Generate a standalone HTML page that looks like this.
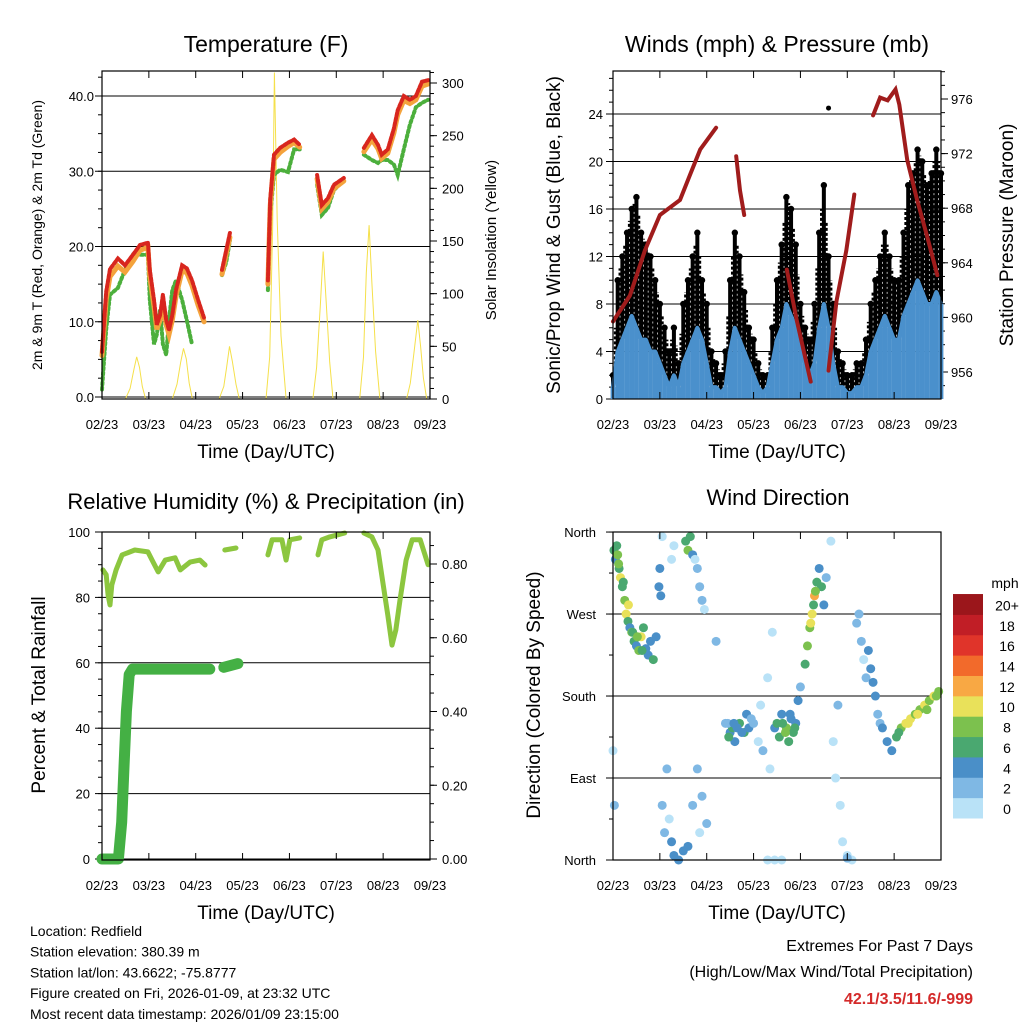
<!DOCTYPE html>
<html><head><meta charset="utf-8">
<style>
html,body{margin:0;padding:0;background:#fff;}
svg{display:block;font-family:"Liberation Sans",Arial,sans-serif;}
</style></head>
<body>
<svg id="chart" width="1024" height="1024" viewBox="0 0 1024 1024" xmlns="http://www.w3.org/2000/svg"></svg>
<script>
// ---------- shared time axis ----------
const xTickLabels = ["02/23","03/23","04/23","05/23","06/23","07/23","08/23","09/23"];

// ---------- Temperature panel data (t in days, value in F; null = gap) ----------
const tempTimes = [0,0.09,0.17,0.34,0.49,0.66,0.81,0.98,1.02,1.11,1.17,1.24,1.3,1.37,1.43,1.5,1.58,1.71,1.81,1.92,2.05,2.18,null,2.56,2.65,2.73,null,3.54,3.59,3.67,3.8,3.97,4.1,4.22,null,4.59,4.69,4.82,4.95,5.16,null,5.59,5.76,5.89,5.97,6.1,6.23,6.31,6.44,6.57,6.7,6.83,6.96];
const redTemp = [6,14,17,18.4,17.5,18.9,20.2,20.5,16.9,12.9,9.6,10.9,13.6,10.2,8.9,10.9,14.2,17.5,17.1,15.5,12.9,10.5,null,16.9,19.5,21.8,null,15.5,26.2,32.2,33.1,33.8,34.2,33.5,null,29.5,25.5,26.4,28.2,29.1,null,33.1,34.8,33.5,32.2,32.9,35.7,38.1,40,39.5,40,41.9,42.1];
const orangeTemp = [5.5,13,16,17.4,16.6,18,19.5,19.9,16,12,9,10.2,12.8,9.6,8.3,10.2,13.4,16.8,16.5,14.8,12.2,10,null,16.3,19,21.2,null,15,25.4,31.6,32.5,33.3,33.8,33.2,null,29,25,25.9,27.7,28.7,null,32.6,34.2,33,31.7,32.4,35.1,37.5,39.4,39,39.5,41.3,41.6];
const greenDew = [1,9,13.6,14.5,16.9,18.9,18.9,18.9,12.9,7,8.3,11.6,7,5.6,10.2,14.2,15.5,12.9,10.2,7,null,null,null,16.2,17.9,20.8,null,14.2,24.2,29.5,30.2,29.9,32.9,32.9,null,28.2,24.2,25.1,27.5,28.8,null,32.2,31.5,31.1,31.5,31.5,30.9,29.5,32.9,36.2,38.5,39.1,39.5];
const solarTimes = [0.5,0.6,0.68,0.74,0.8,0.86,0.93,1.5,1.6,1.68,1.74,1.8,1.86,1.93,2.5,2.6,2.66,2.72,2.78,2.86,2.93,3.5,3.58,3.64,3.68,3.74,3.82,3.93,4.5,4.58,4.66,4.72,4.78,4.86,4.93,5.5,5.58,5.64,5.7,5.76,5.84,5.93,6.5,6.58,6.66,6.74,6.8,6.86,6.93];
const solarVals = [0,10,28,40,30,12,0,0,14,35,48,38,15,0,0,12,30,50,36,14,0,0,40,160,310,170,60,0,0,30,90,140,95,35,0,0,40,120,165,110,45,0,0,15,45,75,50,20,0];

// ---------- Winds panel data ----------
const windTimes = [0,0.1,0.2,0.3,0.4,0.5,0.6,0.7,0.8,0.9,1.0,1.1,1.2,1.3,1.4,1.5,1.6,1.7,1.8,1.9,2.0,2.1,2.2,2.3,2.4,2.5,2.6,2.7,2.8,2.9,3.0,3.1,3.2,3.3,3.4,3.5,3.6,3.7,3.8,3.9,4.0,4.1,4.2,4.3,4.4,4.5,4.6,4.7,4.8,4.9,5.0,5.1,5.2,5.3,5.4,5.5,5.6,5.7,5.8,5.9,6.0,6.1,6.2,6.3,6.4,6.5,6.6,6.7,6.8,6.9,7.0];
const gustVals = [2,10,12,14,16,17,14,13,12,10,8,6,4,6,3,8,10,12,14,10,8,4,3,2,4,10,14,12,9,6,5,3,2,2,6,10,13,17,16,13,8,6,5,8,14,18,12,8,4,3,2,2,3,3,5,8,10,12,14,12,10,10,14,18,19,21,20,18,19,21,19];
const windVals = [1,4,5,6,7,6,5,5,4,4,3,2,1,2,1,3,4,5,6,5,3,1,1,0.5,1,4,6,5,4,3,2,1,0.5,1,3,5,6,8,7,6,4,3,2,3,6,8,6,3,1,1,0.5,0.5,1,1,2,4,5,6,7,6,5,5,7,8,9,10,9,8,8,9,8];
const presTimes = [0,0.36,0.68,1.0,1.43,1.64,1.86,2.2,null,2.63,2.71,2.8,null,3.71,3.92,4.22,null,4.6,4.77,4.98,5.15,null,5.55,5.7,5.86,6.03,6.11,6.28,6.49,6.7,6.92];
const presVals = [959.7,961.6,964.9,967.5,968.6,970.4,972.3,973.9,null,971.8,969.3,967.5,null,963.5,959.8,955.3,null,956.1,961.2,964.9,969,null,974.8,976.1,975.9,976.7,975.6,971.5,968.6,966,963.1];
const loneGustT = [4.6];
const loneGustV = [24.5];

// ---------- RH / precip ----------
const rhTimes = [0.02,0.09,0.13,0.17,0.21,0.3,0.43,0.7,0.98,1.07,1.2,1.35,1.56,1.67,1.88,2.09,2.2,null,2.62,2.86,null,3.54,3.63,3.84,3.93,4.01,4.22,null,4.61,4.69,4.86,5.18,null,5.59,5.76,5.89,5.97,6.1,6.19,6.27,6.36,6.49,6.62,6.79,6.96];
const rhVals = [88.4,86.9,80.7,77.7,83.8,88.4,93,94.5,93.9,91.4,87.8,91.4,92.1,88.4,90.8,91.4,89.9,null,94.5,95.1,null,93,97.6,97.6,91.4,97.6,98.2,null,93,97.6,98.5,99.7,null,99.7,98.5,94.5,86.9,74.6,65.4,70,79.2,91.4,97.6,97.6,90];
const precipTimes = [0,0.35,0.42,0.47,0.52,0.58,0.65,2.3,null,2.6,2.9];
const precipVals = [0,0,0.1,0.25,0.4,0.5,0.515,0.515,null,0.52,0.53];

// ---------- Wind direction ----------
const dirTimes = [0.02,0.05,0.08,0.1,0.13,0.16,0.2,0.25,0.28,0.32,0.36,0.4,0.45,0.5,0.55,0.6,0.65,0.7,0.75,0.8,0.86,0.92,0.98,1.0,1.02,1.05,1.1,1.15,1.2,1.25,1.3,1.4,1.5,1.6,1.7,1.8,1.85,1.9,2.0,1.05,1.3,1.55,1.6,1.65,1.7,1.75,1.8,1.85,1.9,1.95,1.25,2.4,2.5,2.55,2.6,2.7,2.8,2.85,2.9,3.0,3.1,3.15,3.2,3.3,3.35,3.4,2.2,3.45,3.5,3.55,3.6,3.7,3.75,3.8,3.85,3.9,3.95,4.0,4.1,4.15,4.2,4.25,4.3,4.35,4.4,4.45,4.5,4.55,4.65,4.7,4.75,4.8,4.85,4.9,5.0,5.1,5.2,5.25,5.3,5.35,5.4,5.45,5.5,5.55,5.6,5.65,5.7,5.75,5.85,5.95,6.05,6.15,6.25,6.35,6.45,6.55,6.65,6.75,6.85,6.95,3.3,3.45,3.6,5.0,0.0,0.03,2.45,2.65,2.95,2.47,2.58,2.75,3.62,3.68,3.78,3.88,6.1,6.3,6.5,6.7,6.9,0.12,0.22,0.33,0.42,0.52,0.62,4.22,4.28,4.32];
const dirVals = [340,330,345,335,320,310,300,285,270,262,255,250,240,235,230,245,255,232,225,240,220,245,300,320,290,60,30,100,45,20,5,0,10,15,60,100,30,70,40,355,345,350,340,355,335,330,320,300,285,275,330,150,140,145,130,150,140,160,145,150,130,170,120,200,100,250,240,145,150,135,160,145,130,155,140,150,175,190,215,235,255,270,290,305,320,300,280,310,350,130,90,170,60,20,5,0,260,270,240,220,200,230,210,195,180,160,150,145,130,120,135,145,150,155,160,165,170,175,180,185,0,0,0,2,120,60,150,145,155,135,150,140,150,140,160,145,140,150,160,165,180,325,305,280,250,245,230,260,280,295];
const dirSpeeds = [6,4,6,8,6,10,6,8,10,6,4,8,6,4,8,10,6,4,4,4,6,4,4,4,4,2,2,2,0,4,4,4,4,4,2,2,0,2,2,0,0,6,8,6,4,0,2,2,2,0,0,2,4,6,4,6,6,4,4,2,0,0,2,0,0,0,2,4,6,6,4,8,6,4,6,4,4,2,6,8,8,10,12,6,4,6,4,2,0,0,0,2,0,0,0,0,2,2,2,0,2,4,4,4,4,2,2,4,4,4,6,8,10,10,8,8,10,8,10,8,0,0,0,2,0,2,2,4,2,6,4,4,6,8,4,6,6,10,10,8,8,8,6,10,6,8,6,10,6,8];
const speedColors = ["#b9e2f7","#7fb8e4","#4a8fc8","#4aa870","#7cc14e","#e9e15a","#f8a844","#f26a2b","#e0342a","#c11e26","#9b161b"];
const speedLabels = ["0","2","4","6","8","10","12","14","16","18","20+"];

// ---------- helpers ----------
const NS = "http://www.w3.org/2000/svg";
const svg = document.getElementById("chart");
function mk(tag, attrs, parent, txt){
  const e = document.createElementNS(NS, tag);
  for (const k in attrs) e.setAttribute(k, attrs[k]);
  if (txt !== undefined) e.textContent = txt;
  (parent || svg).appendChild(e);
  return e;
}
function txt(x,y,s,size,anchor,name,rot,extra){
  const t = mk("text",{x:x,y:y,"font-size":size,"text-anchor":anchor||"middle",fill:"#000"},svg,s);
  if (rot) t.setAttribute("transform","rotate(-90 "+x+" "+y+")");
  if (extra) for (const k in extra) t.setAttribute(k, extra[k]);
  
  
  return t;
}
function polylines(times, vals, xf, yf, attrs, name){
  let seg = [];
  const segs = [];
  for (let i=0;i<times.length;i++){
    if (times[i]===null || vals[i]===null){ if(seg.length) segs.push(seg); seg=[]; continue; }
    seg.push(xf(times[i]).toFixed(1)+","+yf(vals[i]).toFixed(1));
  }
  if (seg.length) segs.push(seg);
  segs.forEach(s=>{
    const p = mk("polyline", Object.assign({points:s.join(" "),fill:"none"},attrs));
    
    
  });
}
function frame(L,T,R,B,name){
  const r = mk("rect",{x:L,y:T,width:R-L,height:B-T,fill:"none",stroke:"#000","stroke-width":1.2});
  
  
}
function xAxis(L,R,B,T,prefix){
  const step=(R-L)/7;
  for (let i=0;i<xTickLabels.length;i++){
    const x=L+i*step;
    mk("line",{x1:x,y1:B,x2:x,y2:B-7,stroke:"#000"});
    mk("line",{x1:x,y1:T,x2:x,y2:T+7,stroke:"#000"});
    txt(x,B+30,xTickLabels[i],13,"middle",prefix+"-x-tick-label");
  }
  txt((L+R)/2,B+59,"Time (Day/UTC)",19,"middle",prefix+"-x-axis-title");
}
function grid(L,R,y,name){
  const g=mk("line",{x1:L,y1:y,x2:R,y2:y,stroke:"#000","stroke-width":1});
  
  
}
function minorTicks(x,y1,y2,n,side){
  for(let i=0;i<=n;i++){const y=y1+(y2-y1)*i/n; mk("line",{x1:x,y1:y,x2:x+side*4,y2:y,stroke:"#000"});}
}

// ===== Panel 1 : Temperature =====
(function(){
  const L=102,R=430,T=71,B=399;
  const xf=t=>L+t*(R-L)/7, yf=v=>397-v*7.525, ys=v=>399-v*1.0533;
  txt(266,52,"Temperature (F)",23,"middle","temperature-title");
  [0,10,20,30,40].forEach(v=>{grid(L,R,yf(v),"temp-gridline"); mk("line",{x1:L,y1:yf(v),x2:L-7,y2:yf(v),stroke:"#000"}); txt(L-8,yf(v)+5,v.toFixed(1),13,"end","temp-y-tick-label");});
  minorTicks(L,yf(0),yf(42.5),17,-1);
  [0,50,100,150,200,250,300].forEach(v=>{mk("line",{x1:R,y1:ys(v),x2:R+7,y2:ys(v),stroke:"#000"}); txt(R+12,ys(v)+5,String(v),13,"start","solar-y-tick-label");});
  minorTicks(R,ys(0),ys(310),31,1);
  polylines(solarTimes,solarVals,xf,ys,{stroke:"#f5e04a","stroke-width":1},"solar-insolation-line");
  polylines(tempTimes,greenDew,xf,yf,{stroke:"#4caf3c","stroke-width":4,"stroke-dasharray":"2 3","stroke-linecap":"round"},"dewpoint-2m-line");
  polylines(tempTimes,orangeTemp,xf,yf,{stroke:"#f4a33c","stroke-width":5,"stroke-linecap":"round"},"temp-9m-line");
  polylines(tempTimes,redTemp,xf,yf,{stroke:"#d8261e","stroke-width":4,"stroke-linecap":"round","stroke-dasharray":"3 2"},"temp-2m-line");
  frame(L,T,R,B,"temperature-plot-frame");
  xAxis(L,R,B,T,"temp");
  txt(42,235,"2m & 9m T (Red, Orange) & 2m Td (Green)",14,"middle","temp-y-axis-title",true);
  txt(496,240,"Solar Insolation (Yellow)",15,"middle","solar-y-axis-title",true);
})();

// ===== Panel 2 : Winds & Pressure =====
(function(){
  const L=613,R=941,T=71,B=399;
  const xf=t=>L+t*(R-L)/7, yf=v=>399-v*11.875, yp=p=>372-(p-956)*13.65;
  txt(777,52,"Winds (mph) & Pressure (mb)",23,"middle","winds-title");
  [0,4,8,12,16,20,24].forEach(v=>{grid(L,R,yf(v),"wind-gridline"); mk("line",{x1:L,y1:yf(v),x2:L-7,y2:yf(v),stroke:"#000"}); txt(L-10,yf(v)+5,String(v),13,"end","wind-y-tick-label");});
  minorTicks(L,yf(0),yf(27),27,-1);
  [956,960,964,968,972,976].forEach(v=>{mk("line",{x1:R,y1:yp(v),x2:R+7,y2:yp(v),stroke:"#000"}); txt(R+10,yp(v)+5,String(v),13,"start","pressure-y-tick-label");});
  minorTicks(R,yp(955),yp(978),23,1);
  for(let i=0;i<windTimes.length;i++){
    const x=xf(windTimes[i]);
    const l=mk("line",{x1:x,y1:yf(windVals[i]),x2:x,y2:yf(gustVals[i]),stroke:"#000","stroke-width":4});
    
    
    const c=mk("circle",{cx:x,cy:yf(gustVals[i]),r:3.2,fill:"#000"});
    
    
    if(i+1<windTimes.length){
      const xm=(x+xf(windTimes[i+1]))/2;
      const gm=(gustVals[i]+gustVals[i+1])/2, wm=(windVals[i]+windVals[i+1])/2;
      const l2=mk("line",{x1:xm,y1:yf(wm),x2:xm,y2:yf(gm),stroke:"#000","stroke-width":3,"stroke-dasharray":"3 2"});
      
      
    }
  }
  for(let i=0;i<loneGustT.length;i++){
    const c=mk("circle",{cx:xf(loneGustT[i]),cy:yf(loneGustV[i]),r:2.5,fill:"#000"});
    
    
  }
  for(let i=0;i<windTimes.length;i++){
    const x=xf(windTimes[i]);
    const b=mk("line",{x1:x,y1:yf(0),x2:x,y2:yf(windVals[i]),stroke:"#4a90cc","stroke-width":4.8});
    
    
  }
  polylines(windTimes,windVals,xf,yf,{stroke:"#4a90cc","stroke-width":4,"stroke-linejoin":"round"},"sonic-wind-line");
  polylines(presTimes,presVals,xf,yp,{stroke:"#a01c1c","stroke-width":4,"stroke-linecap":"round"},"pressure-line");
  frame(L,T,R,B,"winds-plot-frame");
  xAxis(L,R,B,T,"winds");
  txt(560,235,"Sonic/Prop Wind & Gust (Blue, Black)",19,"middle","wind-y-axis-title",true);
  txt(1013,235,"Station Pressure (Maroon)",19,"middle","pressure-y-axis-title",true);
})();

// ===== Panel 3 : RH & Precip =====
(function(){
  const L=102,R=430,T=532,B=860;
  const xf=t=>L+t*(R-L)/7, yf=v=>859-v*3.27, yr=v=>859-v*368.75;
  txt(266,509,"Relative Humidity (%) & Precipitation (in)",22,"middle","rh-title");
  [0,20,40,60,80,100].forEach(v=>{grid(L,R,yf(v),"rh-gridline"); mk("line",{x1:L,y1:yf(v),x2:L-7,y2:yf(v),stroke:"#000"}); txt(L-12,yf(v)+5,String(v),13,"end","rh-y-tick-label");});
  minorTicks(L,yf(0),yf(100),20,-1);
  [0,0.2,0.4,0.6,0.8].forEach(v=>{mk("line",{x1:R,y1:yr(v),x2:R+7,y2:yr(v),stroke:"#000"}); txt(R+12,yr(v)+5,v.toFixed(2),13,"start","precip-y-tick-label");});
  minorTicks(R,yr(0),yr(0.85),17,1);
  polylines(precipTimes,precipVals,xf,yr,{stroke:"#44b044","stroke-width":11,"stroke-linecap":"round","stroke-linejoin":"round"},"precip-total-line");
  polylines(rhTimes,rhVals,xf,yf,{stroke:"#8cc63f","stroke-width":5,"stroke-linecap":"round","stroke-linejoin":"round"},"rh-line");
  frame(L,T,R,B,"rh-plot-frame");
  xAxis(L,R,B,T,"rh");
  txt(45,695,"Percent & Total Rainfall",19,"middle","rh-y-axis-title",true);
})();

// ===== Panel 4 : Wind Direction =====
(function(){
  const L=613,R=941,T=532,B=860;
  const xf=t=>L+t*(R-L)/7, yf=d=>860-d*0.911;
  txt(778,505,"Wind Direction",22,"middle","wind-direction-title");
  const dirNames=["North","East","South","West","North"];
  [0,90,180,270,360].forEach((v,i)=>{grid(L,R,yf(v),"dir-gridline"); mk("line",{x1:L,y1:yf(v),x2:L-7,y2:yf(v),stroke:"#000"}); txt(L-17,yf(v)+5,dirNames[i],13,"end","dir-y-tick-label");});
  minorTicks(L,yf(0),yf(360),8,-1);
  for(let i=0;i<dirTimes.length;i++){
    const idx=Math.min(10,Math.floor(dirSpeeds[i]/2));
    const c=mk("circle",{cx:xf(dirTimes[i]),cy:yf(dirVals[i]),r:4.5,fill:speedColors[idx]});
    
    
  }
  frame(L,T,R,B,"direction-plot-frame");
  xAxis(L,R,B,T,"dir");
  txt(540,695,"Direction (Colored By Speed)",19,"middle","dir-y-axis-title",true);
  txt(1005,588,"mph",14,"middle","colorbar-title");
  const bx=953,by0=818,bh=20.36;
  for(let i=0;i<speedColors.length;i++){
    const r=mk("rect",{x:bx,y:by0-(i+1)*bh,width:30,height:bh+0.5,fill:speedColors[i]});
    
    
    txt(1007,by0-i*bh-4,speedLabels[i],14,"middle","colorbar-label");
  }
})();

// ===== Footer text =====
const infoLines=["Location: Redfield","Station elevation: 380.39 m","Station lat/lon: 43.6622; -75.8777","Figure created on Fri, 2026-01-09, at 23:32 UTC","Most recent data timestamp: 2026/01/09 23:15:00"];
infoLines.forEach((s,i)=>txt(30,936+i*20.7,s,14,"start","station-info-line"));
txt(973,951,"Extremes For Past 7 Days",16,"end","extremes-heading");
txt(973,977,"(High/Low/Max Wind/Total Precipitation)",16,"end","extremes-subheading");
txt(973,1004,"42.1/3.5/11.6/-999",16,"end","extremes-values",false,{fill:"#d42a2a","font-weight":"bold"});
</script>
</body></html>
